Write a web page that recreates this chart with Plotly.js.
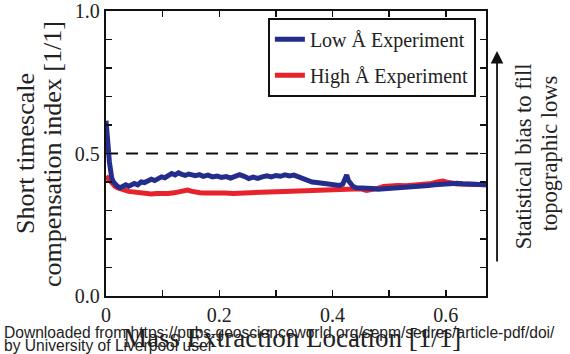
<!DOCTYPE html>
<html>
<head>
<meta charset="utf-8">
<script src="https://cdn.plot.ly/plotly-3.0.1.min.js"></script>
<style>
  html, body { margin: 0; padding: 0; background: #fff; }
  #chart { width: 570px; height: 354px; }
</style>
</head>
<body>
<div id="chart"></div>
<script>
// Low Å experiment: compensation index vs. mass extraction location
const lowX = [0, 0.002, 0.004, 0.006, 0.008, 0.010, 0.013, 0.016, 0.020, 0.025, 0.030, 0.035, 0.040, 0.045, 0.050,
  0.056, 0.062, 0.068, 0.074, 0.080, 0.086, 0.092, 0.098, 0.104, 0.110, 0.116, 0.122, 0.128, 0.134, 0.140, 0.146, 0.152, 0.158,
  0.165, 0.172,
  0.180, 0.188, 0.196, 0.204, 0.212, 0.220, 0.228, 0.236, 0.244, 0.252, 0.260, 0.268, 0.276, 0.284, 0.292, 0.300,
  0.308, 0.316, 0.324, 0.332, 0.340, 0.348, 0.356, 0.364, 0.372, 0.380, 0.388, 0.396, 0.404, 0.412,
  0.418, 0.422, 0.425, 0.428, 0.432, 0.436, 0.442, 0.450,
  0.460, 0.470, 0.480, 0.490, 0.500, 0.510, 0.520, 0.530, 0.540, 0.550, 0.560, 0.570, 0.580, 0.590, 0.600,
  0.610, 0.620, 0.630, 0.640, 0.650, 0.660, 0.671];
const lowY = [0.615, 0.58, 0.52, 0.47, 0.44, 0.415, 0.40, 0.39, 0.385, 0.38, 0.385, 0.39, 0.385, 0.392, 0.395,
  0.39, 0.40, 0.398, 0.405, 0.41, 0.405, 0.412, 0.418, 0.415, 0.422, 0.43, 0.425, 0.432, 0.427, 0.423, 0.428, 0.425, 0.422,
  0.426, 0.42,
  0.424, 0.418, 0.421, 0.416, 0.419, 0.414, 0.42, 0.426, 0.42, 0.412, 0.417, 0.413, 0.418, 0.422, 0.418, 0.423,
  0.42, 0.425, 0.421, 0.424, 0.418, 0.412, 0.405, 0.40, 0.398, 0.396, 0.397, 0.392, 0.39, 0.388,
  0.392, 0.42, 0.425, 0.405, 0.392, 0.385, 0.38, 0.378,
  0.376, 0.377, 0.375, 0.376, 0.377, 0.378, 0.38, 0.38, 0.382, 0.383, 0.386, 0.388, 0.39, 0.392, 0.395,
  0.397, 0.396, 0.394, 0.393, 0.392, 0.394, 0.39];

// High Å experiment
const highX = [0, 0.004, 0.008, 0.012, 0.016, 0.020, 0.026, 0.032, 0.040,
  0.050, 0.060, 0.070, 0.080, 0.090, 0.100, 0.110, 0.120, 0.130,
  0.138, 0.144, 0.150, 0.158, 0.166, 0.176, 0.186, 0.196,
  0.210, 0.225, 0.240, 0.255, 0.270, 0.285, 0.300, 0.315, 0.330, 0.345, 0.360, 0.375, 0.390, 0.405, 0.420, 0.435, 0.450,
  0.460, 0.470, 0.480, 0.490, 0.500, 0.515, 0.530, 0.545, 0.560, 0.575,
  0.585, 0.595, 0.605, 0.620, 0.640, 0.660, 0.671];
const highY = [0.42, 0.41, 0.40, 0.39, 0.385, 0.38, 0.378, 0.372, 0.367,
  0.364, 0.362, 0.36, 0.358, 0.36, 0.359, 0.36, 0.362, 0.365,
  0.37, 0.372, 0.368, 0.364, 0.362, 0.361, 0.362, 0.36,
  0.361, 0.36, 0.362, 0.362, 0.363, 0.364, 0.366, 0.367, 0.368, 0.369, 0.371, 0.373, 0.375, 0.376, 0.377, 0.376, 0.376,
  0.37, 0.372, 0.378, 0.384, 0.386, 0.388, 0.387, 0.389, 0.392, 0.395,
  0.4, 0.403, 0.398, 0.393, 0.392, 0.39, 0.39];

// Reference level (no bias)
const refX = [0, 0.671];
const refY = [0.5, 0.5];

const seriesNames = ['Low Å Experiment', 'High Å Experiment'];
const xTickVals = [0, 0.2, 0.4, 0.6];
const xTickText = ['0', '0.2', '0.4', '0.6'];
const yTickVals = [0, 0.5, 1.0];
const yTickText = ['0.0', '0.5', '1.0'];

const serif = 'Liberation Serif';
const sans = 'Liberation Sans';
const ink = '#222';

const traces = [
  { x: refX, y: refY, mode: 'lines', showlegend: false, hoverinfo: 'skip',
    line: { color: '#111', width: 2.2, dash: '12px,8px' } },
  { x: highX, y: highY, mode: 'lines', name: seriesNames[1], legendgroup: 'high', legendrank: 2,
    line: { color: '#e8222b', width: 5 } },
  { x: lowX, y: lowY, mode: 'lines', name: seriesNames[0], legendgroup: 'low', legendrank: 1,
    line: { color: '#252d8c', width: 5 } }
];

const axisCommon = {
  showline: true, linecolor: '#111', linewidth: 2.2, mirror: 'ticks',
  ticks: 'inside', ticklen: 6, tickwidth: 1.5, tickcolor: '#111',
  showgrid: false, zeroline: false, ticklabeloverflow: 'allow',
  tickfont: { family: serif, size: 20, color: ink }
};
const minorTicks = { dtick: 0.1, ticks: 'inside', ticklen: 6, tickwidth: 1.5, tickcolor: '#111', showgrid: false };

function label(text, x, y, size, opts) {
  return Object.assign({
    xref: 'paper', yref: 'paper', x: x, y: y, xanchor: 'center', yanchor: 'middle',
    showarrow: false, text: text, font: { family: serif, size: size, color: ink }
  }, opts || {});
}

const layout = {
  width: 570, height: 354,
  margin: { l: 106, r: 84, t: 11, b: 58 },
  paper_bgcolor: '#fff', plot_bgcolor: '#fff',
  font: { family: serif, color: ink },
  xaxis: Object.assign({}, axisCommon, {
    range: [0, 0.671], tickmode: 'array', tickvals: xTickVals, ticktext: xTickText, minor: minorTicks
  }),
  yaxis: Object.assign({}, axisCommon, {
    range: [0, 1], tickmode: 'array', tickvals: yTickVals, ticktext: yTickText, minor: minorTicks
  }),
  legend: {
    x: 0.426, y: 0.976, xanchor: 'left', yanchor: 'top',
    bgcolor: '#fff', bordercolor: '#111', borderwidth: 2,
    font: { family: serif, size: 20, color: ink },
    itemwidth: 30, traceorder: 'grouped', tracegroupgap: 7
  },
  annotations: [
    // y-axis title, two lines
    label('Short timescale', -0.212, 0.5, 26, { textangle: -90 }),
    label('compensation index [1/1]', -0.141, 0.5, 26, { textangle: -90 }),
    // x-axis title
    label('Mass Extraction Location [1/1]', 0.49, -0.147, 27),
    // right-hand note with arrow
    label('Statistical bias to fill', 1.097, 0.49, 22.5, { textangle: -90 }),
    label('topographic lows', 1.168, 0.50, 22.5, { textangle: -90 }),
    { xref: 'paper', yref: 'paper', x: 1.029, y: 0.86, ax: 0, ay: 212, axref: 'pixel', ayref: 'pixel',
      text: '', showarrow: true, arrowhead: 2, arrowsize: 1.4, arrowwidth: 1.8, arrowcolor: '#111' },
    // download stamp
    label('Downloaded from https://pubs.geoscienceworld.org/sepm/sedres/article-pdf/doi/', -0.274, -0.127, 15.6,
      { xanchor: 'left', font: { family: sans, size: 15.6, color: ink } }),
    label('by University of Liverpool user', -0.274, -0.175, 15.6,
      { xanchor: 'left', font: { family: sans, size: 15.6, color: ink } })
  ]
};

Plotly.newPlot('chart', traces, layout, { displayModeBar: false, staticPlot: true });
</script>
</body>
</html>
